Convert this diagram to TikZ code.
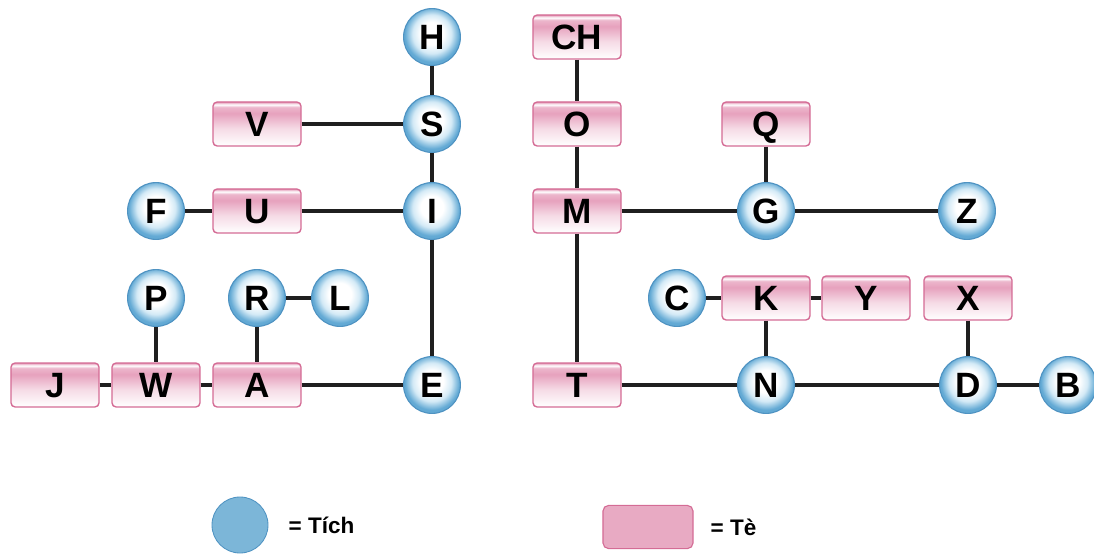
\documentclass[tikz,border=0pt]{standalone}
\usepackage{fontspec}
\setmainfont{Liberation Sans}
\usepackage{tikz}
\usetikzlibrary{positioning}

\definecolor{tichblue}{HTML}{62A9D4}
\definecolor{tichlight}{HTML}{D4EAF6}
\definecolor{tichrim}{HTML}{4F93C2}
\definecolor{tichflat}{HTML}{7CB6D8}
\definecolor{tepink}{HTML}{E497B6}
\definecolor{terim}{HTML}{D46C95}
\definecolor{teflat}{HTML}{E8AAC3}

\pgfdeclareradialshading{tichball}{\pgfpoint{0bp}{4bp}}{color(0bp)=(white); color(10bp)=(white); color(17bp)=(tichlight); color(24bp)=(tichblue); color(50bp)=(tichblue)}
\pgfdeclareverticalshading{tebar}{100bp}{color(0bp)=(white); color(25bp)=(white); color(45bp)=(tepink!35); color(62bp)=(tepink!90); color(69bp)=(tepink!70); color(72bp)=(white); color(75bp)=(tepink); color(100bp)=(tepink)}

\tikzset{
  tich/.style={circle, draw=tichrim, line width=0.8pt, shade, shading=tichball,
    minimum size=1.42cm, inner sep=0pt, text height=17.9pt, text depth=0pt,
    font=\fontsize{25}{25}\selectfont\bfseries},
  te/.style={rectangle, rounded corners=3pt, draw=terim, line width=1pt, shade, shading=tebar,
    minimum width=2.2cm, minimum height=1.1cm, inner sep=0pt, text height=17.9pt, text depth=0pt,
    font=\fontsize{25}{25}\selectfont\bfseries},
  link/.style={line width=2.8pt, black!88},
  legtext/.style={inner sep=0pt, font=\fontsize{16}{16}\selectfont\bfseries}
}

\begin{document}
\begin{tikzpicture}[x=0.025cm, y=-0.025cm]
    \useasboundingbox (0,0) rectangle (1094,554);
    % left tree
    \node[tich] (H) at (432,37) {H};
    \node[tich] (S) at (432,124) {S};
    \node[te] (V) at (257,124) {V};
    \node[tich] (I) at (432,211) {I};
    \node[te] (U) at (257,211) {U};
    \node[tich] (F) at (156,211) {F};
    \node[tich] (P) at (156,298) {P};
    \node[tich] (R) at (257,298) {R};
    \node[tich] (L) at (340,298) {L};
    \node[te] (J) at (55,385) {J};
    \node[te] (W) at (156,385) {W};
    \node[te] (A) at (257,385) {A};
    \node[tich] (E) at (432,385) {E};
    % right tree
    \node[te] (CH) at (577,37) {CH};
    \node[te] (O) at (577,124) {O};
    \node[te] (Q) at (766,124) {Q};
    \node[te] (M) at (577,211) {M};
    \node[tich] (G) at (766,211) {G};
    \node[tich] (Z) at (967,211) {Z};
    \node[tich] (C) at (677,298) {C};
    \node[te] (K) at (766,298) {K};
    \node[te] (Y) at (866,298) {Y};
    \node[te] (X) at (968,298) {X};
    \node[te] (T) at (577,385) {T};
    \node[tich] (N) at (766,385) {N};
    \node[tich] (D) at (968,385) {D};
    \node[tich] (B) at (1068,385) {B};

    \draw[link] (H) -- (S);
    \draw[link] (S) -- (I);
    \draw[link] (I) -- (E);
    \draw[link] (V) -- (S);
    \draw[link] (F) -- (U);
    \draw[link] (U) -- (I);
    \draw[link] (P) -- (W);
    \draw[link] (R) -- (A);
    \draw[link] (R) -- (L);
    \draw[link] (J) -- (W);
    \draw[link] (W) -- (A);
    \draw[link] (A) -- (E);

    \draw[link] (CH) -- (O);
    \draw[link] (O) -- (M);
    \draw[link] (M) -- (T);
    \draw[link] (M) -- (G);
    \draw[link] (G) -- (Z);
    \draw[link] (Q) -- (G);
    \draw[link] (C) -- (K);
    \draw[link] (K) -- (Y);
    \draw[link] (K) -- (N);
    \draw[link] (X) -- (D);
    \draw[link] (T) -- (N);
    \draw[link] (N) -- (D);
    \draw[link] (D) -- (B);

    % legend
    \node[circle, fill=tichflat, draw=tichrim, line width=0.6pt, minimum size=1.4cm] (legC) at (240,525) {};
    \node[legtext, right=0.5cm of legC] (legCt) {= Tích};
    \node[rectangle, rounded corners=4pt, fill=teflat, draw=terim, line width=0.8pt,
      minimum width=2.25cm, minimum height=1.08cm] (legR) at (648,527) {};
    \node[legtext, right=0.42cm of legR] (legRt) {= Tè};
\end{tikzpicture}
\end{document}
